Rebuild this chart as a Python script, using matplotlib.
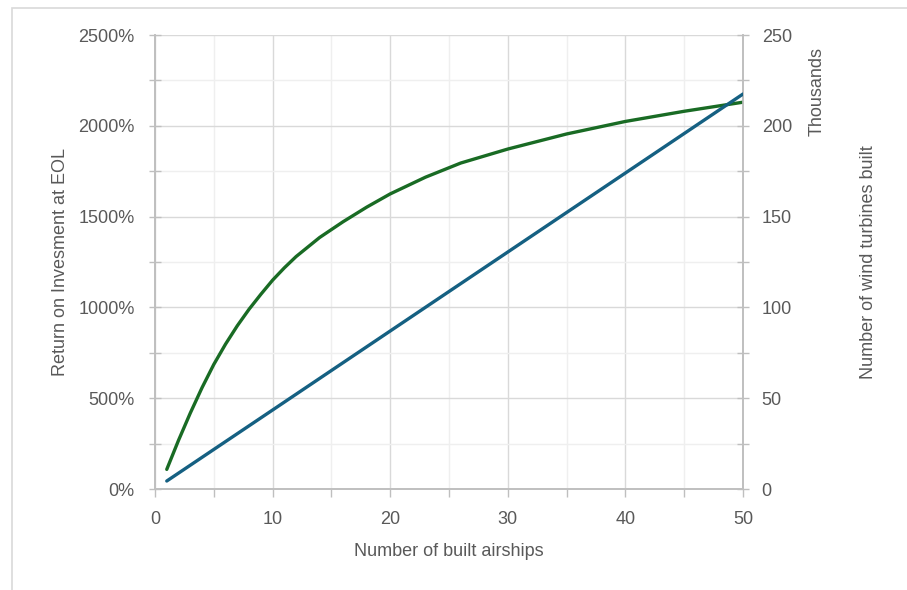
import matplotlib
matplotlib.use("Agg")
import matplotlib.pyplot as plt
from matplotlib.ticker import MultipleLocator, FuncFormatter
from matplotlib.patches import Rectangle

# data
airships = [1, 2, 3, 4, 5, 6, 7, 8, 9, 10, 11, 12, 14, 16, 18, 20, 23, 26,
            30, 35, 40, 45, 50]
roi_pct = [108, 268, 418, 558, 686, 798, 899, 990, 1072, 1150, 1218, 1280,
           1385, 1472, 1552, 1625, 1717, 1795, 1872, 1955, 2024, 2080, 2130]

turbine_x = [1, 10, 20, 30, 40, 50]
turbines_k = [4.4, 43.5, 87.0, 130.5, 174.0, 217.5]

x_ticks = [0, 10, 20, 30, 40, 50]

GREEN = "#196B24"
BLUE = "#156082"
TEXT = "#595959"
AXIS = "#bfbfbf"

plt.rcParams["font.family"] = ["Liberation Sans", "DejaVu Sans"]

fig = plt.figure(figsize=(9.07, 5.90), dpi=100)
ax = fig.add_axes([155 / 907, 1 - 489 / 590, (743 - 155) / 907, (489 - 35) / 590])
ax2 = ax.twinx()

# outer chart frame (top and left edge visible)
fig.patches.append(Rectangle((12 / 907, -0.1), 1.2, (590 - 8) / 590 + 0.1,
                             transform=fig.transFigure, fill=False,
                             edgecolor="#d9d9d9", linewidth=1.2))

ax.plot(airships, roi_pct, color=GREEN, linewidth=2.4, solid_capstyle="round", zorder=3)
ax2.plot(turbine_x, turbines_k, color=BLUE, linewidth=2.4, solid_capstyle="round", zorder=3)

ax.set_xlim(0, 50)
ax.set_ylim(0, 2500)
ax2.set_ylim(0, 250)

ax.set_xticks(x_ticks)
ax.xaxis.set_minor_locator(MultipleLocator(5))
ax.yaxis.set_major_locator(MultipleLocator(500))
ax.yaxis.set_minor_locator(MultipleLocator(250))
ax.yaxis.set_major_formatter(FuncFormatter(lambda v, p: f"{v:.0f}%"))
ax2.yaxis.set_major_locator(MultipleLocator(50))
ax2.yaxis.set_minor_locator(MultipleLocator(25))

# gridlines
ax.grid(which="major", color="#d9d9d9", linewidth=1.0)
ax.grid(which="minor", color="#efefef", linewidth=1.0)
ax.set_axisbelow(True)

for a in (ax, ax2):
    for s in a.spines.values():
        s.set_color(AXIS)
        s.set_linewidth(1.2)
    a.spines["top"].set_visible(False)

ax.tick_params(axis="x", which="both", direction="out", length=6, width=1.0,
               color=AXIS, labelcolor=TEXT, labelsize=13, pad=10)
ax.tick_params(axis="y", which="both", direction="inout", length=9, width=1.0,
               color=AXIS, labelcolor=TEXT, labelsize=13, pad=10)
ax2.tick_params(axis="y", which="both", direction="inout", length=9, width=1.0,
                color=AXIS, labelcolor=TEXT, labelsize=13, pad=9)

ax.set_xlabel("Number of built airships", fontsize=13, color=TEXT, labelpad=11)
ax.set_ylabel("Return on Invesment at EOL", fontsize=13, color=TEXT, labelpad=7)
ax2.set_ylabel("Number of wind turbines built", fontsize=13, color=TEXT, labelpad=49)

fig.text(817 / 907, 1 - 92 / 590, "Thousands", rotation=90, ha="center",
         va="center", fontsize=13, color=TEXT)

fig.savefig("out.png", dpi=100)
